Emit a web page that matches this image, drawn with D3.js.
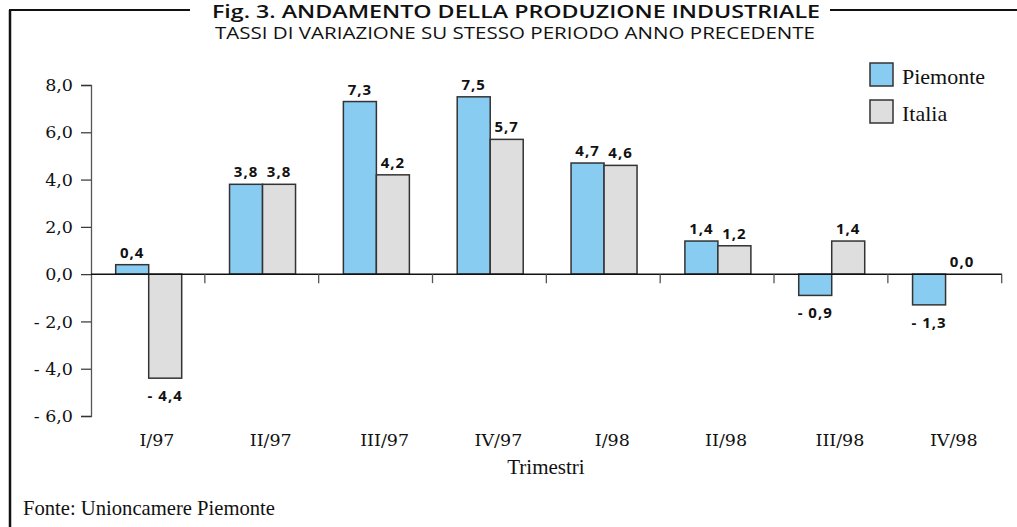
<!DOCTYPE html>
<html>
<head>
<meta charset="utf-8">
<script src="https://cdn.jsdelivr.net/npm/d3@7"></script>
<style>
  body { margin: 0; background: #fff; }
</style>
</head>
<body>
<svg id="chart" width="1017" height="527"></svg>
<script>
const quarters = ['I/97', 'II/97', 'III/97', 'IV/97', 'I/98', 'II/98', 'III/98', 'IV/98']
const seriesNames = ['Piemonte', 'Italia']
const piemonte = [0.4, 3.8, 7.3, 7.5, 4.7, 1.4, -0.9, -1.3]
const italia = [-4.4, 3.8, 4.2, 5.7, 4.6, 1.2, 1.4, 0.0]
const yTicks = [-6, -4, -2, 0, 2, 4, 6, 8]
const colors = ['#88ccf2', '#dedede']

function main() {
    let svg = d3.select('#chart'),
        margin = {left: 91, right: 15, top: 85, bottom: 111},
        W = 1017, H = 527

    let fmt = v => {
        let s = Math.abs(v).toFixed(1).replace('.', ',')
        return v < 0 ? '- ' + s : s
    }

    let xScale = d3.scaleBand().domain(quarters).range([margin.left, 1001.7])
    let inner = d3.scaleBand().domain(seriesNames).range([24.7, 24.7 + 66])
    let yScale = d3.scaleLinear().domain([-6, 8]).range([416, 85])

    // frame
    svg.append('line').attr('x1', 10).attr('x2', 10).attr('y1', 10).attr('y2', H)
        .attr('stroke', '#111').attr('stroke-width', 2.5)
    svg.append('line').attr('x1', 9).attr('x2', 190).attr('y1', 10).attr('y2', 10)
        .attr('stroke', '#111').attr('stroke-width', 2)
    svg.append('line').attr('x1', 830).attr('x2', W).attr('y1', 10).attr('y2', 10)
        .attr('stroke', '#111').attr('stroke-width', 2)

    svg.append('text').attr('x', 212).attr('y', 18)
        .attr('font-family', 'Open Sans').attr('font-weight', 600)
        .attr('font-size', 17.5).attr('fill', '#111')
        .attr('textLength', 608).attr('lengthAdjust', 'spacingAndGlyphs')
        .text('Fig. 3.  ANDAMENTO DELLA PRODUZIONE INDUSTRIALE')
    svg.append('text').attr('x', 215).attr('y', 39)
        .attr('font-family', 'Open Sans')
        .attr('font-size', 17).attr('fill', '#111')
        .attr('textLength', 600).attr('lengthAdjust', 'spacingAndGlyphs')
        .text('TASSI  DI VARIAZIONE SU STESSO PERIODO ANNO PRECEDENTE')

    // y axis
    let yAxis = svg.append('g')
        .attr('transform', 'translate(' + margin.left + ',0)')
        .call(d3.axisLeft(yScale).tickValues(yTicks).tickSize(10).tickPadding(8).tickFormat(fmt))
    yAxis.select('.domain').attr('stroke', '#555').attr('stroke-width', 1.3)
    yAxis.selectAll('.tick line').attr('stroke', '#333').attr('stroke-width', 1.2)
    yAxis.selectAll('.tick text')
        .attr('font-family', 'DejaVu Serif').attr('font-size', 17.5).attr('fill', '#111')

    // bars
    let data = []
    quarters.forEach((q, i) => {
        data.push({q: q, s: 'Piemonte', v: piemonte[i], c: colors[0]})
        data.push({q: q, s: 'Italia', v: italia[i], c: colors[1]})
    })

    svg.selectAll('rect.bar')
        .data(data)
        .enter()
        .append('rect')
        .attr('class', 'bar')
        .attr('x', d => xScale(d.q) + inner(d.s))
        .attr('y', d => yScale(Math.max(0, d.v)))
        .attr('width', inner.bandwidth())
        .attr('height', d => Math.abs(yScale(d.v) - yScale(0)))
        .attr('fill', d => d.c)
        .attr('stroke', '#333')
        .attr('stroke-width', 1.5)

    // x axis
    let xAxis = svg.append('g').attr('transform', 'translate(0,' + yScale(0) + ')')
    xAxis.append('line').attr('x1', margin.left).attr('x2', 1002).attr('stroke', '#111').attr('stroke-width', 1.5)
    xAxis.selectAll('line.tk')
        .data(quarters)
        .enter()
        .append('line')
        .attr('class', 'tk')
        .attr('x1', d => xScale(d) + xScale.bandwidth())
        .attr('x2', d => xScale(d) + xScale.bandwidth())
        .attr('y1', 0).attr('y2', 9)
        .attr('stroke', '#555').attr('stroke-width', 1.3)

    svg.selectAll('text.cat')
        .data(quarters)
        .enter()
        .append('text')
        .attr('class', 'cat')
        .attr('x', d => xScale(d) + xScale.bandwidth() / 2 + 9)
        .attr('y', 446)
        .attr('text-anchor', 'middle')
        .attr('font-family', 'DejaVu Serif').attr('font-size', 17.5).attr('fill', '#111')
        .text(d => d)

    svg.append('text').attr('x', 546).attr('y', 474).attr('text-anchor', 'middle')
        .attr('font-family', 'Liberation Serif').attr('font-size', 21).attr('fill', '#111')
        .text('Trimestri')

    // value labels
    svg.selectAll('text.val')
        .data(data)
        .enter()
        .append('text')
        .attr('class', 'val')
        .attr('x', d => xScale(d.q) + inner(d.s) + inner.bandwidth() / 2)
        .attr('y', d => d.v < 0 ? yScale(d.v) + 23 : yScale(d.v) - 7)
        .attr('text-anchor', 'middle')
        .attr('font-family', 'Open Sans').attr('font-weight', 'bold')
        .attr('font-size', 15).attr('letter-spacing', 1).attr('fill', '#111')
        .text(d => fmt(d.v))

    // legend
    let legend = svg.selectAll('g.leg')
        .data(seriesNames)
        .enter()
        .append('g')
        .attr('class', 'leg')
        .attr('transform', (d, i) => 'translate(870,' + (63 + i * 37) + ')')
    legend.append('rect').attr('width', 23).attr('height', 23)
        .attr('fill', (d, i) => colors[i]).attr('stroke', '#333').attr('stroke-width', 1.5)
    legend.append('text').attr('x', 32).attr('y', 21)
        .attr('font-family', 'Liberation Serif').attr('font-size', 22).attr('fill', '#111')
        .text(d => d)

    svg.append('text').attr('x', 23).attr('y', 515)
        .attr('font-family', 'Liberation Serif').attr('font-size', 21).attr('fill', '#111')
        .attr('textLength', 252).attr('lengthAdjust', 'spacingAndGlyphs')
        .text('Fonte: Unioncamere Piemonte')
}

main()
</script>
</body>
</html>
